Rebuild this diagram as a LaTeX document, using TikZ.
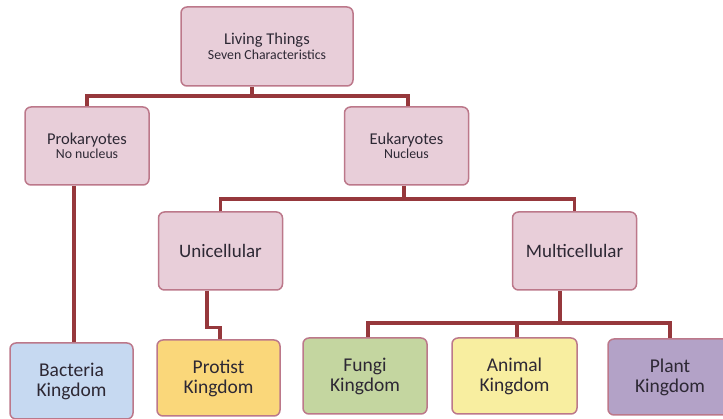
\documentclass[tikz,border=0pt]{standalone}
\usepackage{fontspec}
\setmainfont{Carlito}
\usepackage{tikz}
\definecolor{boxpink}{RGB}{232,206,217}
\definecolor{boxline}{RGB}{188,120,138}
\definecolor{branchred}{RGB}{150,56,60}
\definecolor{textdark}{RGB}{45,40,52}
\definecolor{bactblue}{RGB}{198,217,241}
\definecolor{protorange}{RGB}{250,215,122}
\definecolor{fungigreen}{RGB}{196,214,160}
\definecolor{animyellow}{RGB}{248,238,160}
\definecolor{plantpurple}{RGB}{179,162,199}
\tikzstyle{group}=[
        draw=boxline,
        fill=boxpink,
        line width=1.5pt,
        rounded corners=6pt,
        minimum width=124pt,
        minimum height=78pt,
        align=center,
        inner sep=0pt,
        text=textdark
]
\tikzstyle{kingdom}=[
        group,
        minimum height=76pt,
        font=\fontsize{19.5}{20}\selectfont
]
\tikzstyle{branch}=[
        draw=branchred,
        line width=3.2pt
]

\begin{document}
\begin{tikzpicture}[x=1pt,y=-1pt]
                        \useasboundingbox (0,0) rectangle (723,419);

                        \node[group,minimum width=172pt,minimum height=79pt] (living) at (267,46.5)
                            {{\fontsize{16.5}{17}\selectfont Living Things}\\[1pt]{\fontsize{13.8}{15}\selectfont Seven Characteristics}};
                        \node[group] (prok) at (87,146)
                            {{\fontsize{16.5}{17}\selectfont Prokaryotes}\\[1pt]{\fontsize{13.8}{15}\selectfont No nucleus}};
                        \node[group] (euk) at (406.5,146)
                            {{\fontsize{16.5}{17}\selectfont Eukaryotes}\\[1pt]{\fontsize{13.8}{15}\selectfont Nucleus}};

                        \node[group,font=\fontsize{19}{19}\selectfont] (uni) at (220.5,251) {Unicellular};
                        \node[group,font=\fontsize{19}{19}\selectfont] (multi) at (574.5,251) {Multicellular};

                        \node[kingdom,fill=bactblue,minimum width=123pt] (bacteria) at (71.5,381) {Bacteria\\Kingdom};
                        \node[kingdom,fill=protorange,minimum width=123pt] (protist) at (218.5,378) {Protist\\Kingdom};
                        \node[kingdom,fill=fungigreen] (fungi) at (365,376) {Fungi\\Kingdom};
                        \node[kingdom,fill=animyellow,minimum width=125pt] (animal) at (514.5,376) {Animal\\Kingdom};
                        \node[kingdom,fill=plantpurple] (plant) at (670,377) {Plant\\Kingdom};

                        \coordinate (bus1) at (0,96);
                        \coordinate (bus2) at (0,199);
                        \coordinate (bus3) at (0,323);

                        \draw[branch] ([xshift=-15pt]living.south) -- ([xshift=-15pt]living.south |- bus1);
                        \draw[branch] (prok.north) |- ([xshift=1.5pt]euk.north |- bus1) -- ([xshift=1.5pt]euk.north);

                        \draw[branch] ([xshift=-2.5pt]euk.south) -- ([xshift=-2.5pt]euk.south |- bus2);
                        \draw[branch] (uni.north) |- (multi.north |- bus2) -- (multi.north);

                        \draw[branch] ([xshift=2.5pt]bacteria.north |- prok.south) -- ([xshift=2.5pt]bacteria.north);
                        \draw[branch] ([xshift=-13.5pt]uni.south) -- ++(0,37) -| ([xshift=1.5pt]protist.north);

                        \draw[branch] ([xshift=-14.5pt]multi.south) -- ([xshift=-14.5pt]multi.south |- bus3);
                        \draw[branch] ([xshift=3pt]fungi.north) |- (plant.north |- bus3) -- (plant.north);
                        \draw[branch] ([xshift=2.5pt]animal.north |- bus3) -- ([xshift=2.5pt]animal.north);
                    \end{tikzpicture}
\end{document}
